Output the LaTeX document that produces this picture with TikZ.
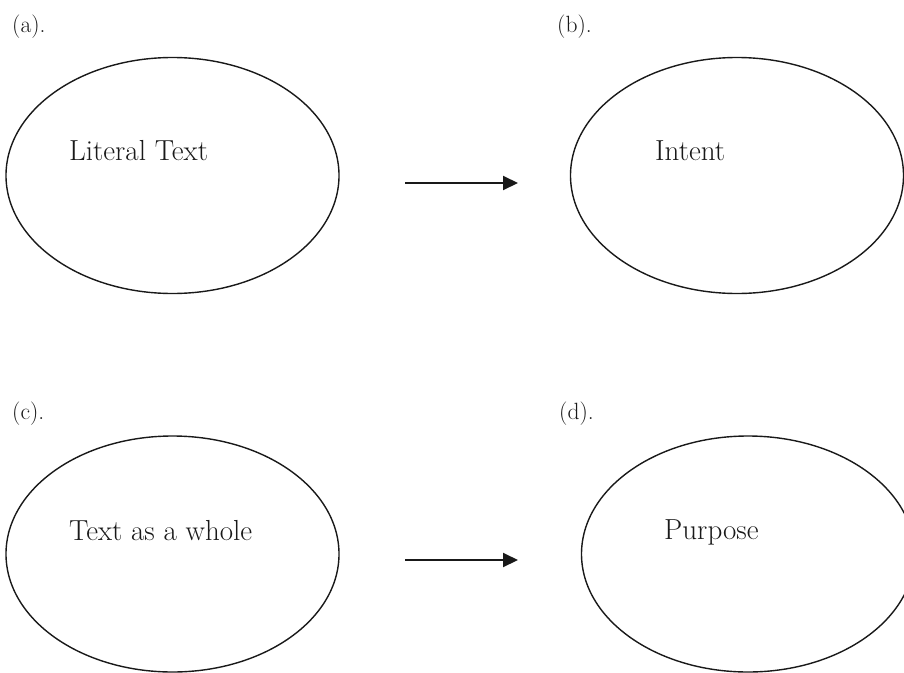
\documentclass[tikz,border=0pt]{standalone}
\usetikzlibrary{shapes.geometric,arrows.meta}
\begin{document}
\begin{tikzpicture}[x=1pt,y=-1pt,
  bubble/.style={draw=black!90,line width=1.4pt,ellipse,inner sep=0pt,minimum width=333pt,minimum height=236pt},
  inner/.style={anchor=base west,inner sep=0pt,text=black!90,font=\fontsize{29}{34}\selectfont},
  tag/.style={anchor=base west,inner sep=0pt,text=black!90,font=\fontsize{23.5}{28}\selectfont},
  arr/.style={draw=black!90,line width=2pt,-{Triangle[length=15pt,width=14pt]}}]
\useasboundingbox (0,0) rectangle (904,672);
\node[bubble] (a) at (172.5,175.5) {};
\node[bubble] (b) at (737,175.5) {};
\node[bubble] (c) at (172.5,554) {};
\node[bubble] (d) at (748,554) {};
\node[tag] (la) at (12,32.5) {(a).};
\node[tag] (lb) at (557,32.5) {(b).};
\node[tag] (lc) at (12,419) {(c).};
\node[tag] (ld) at (559,419) {(d).};
\node[inner] (ta) at (69,160) {Literal Text};
\node[inner] (tb) at (655,160) {Intent};
\node[inner] (tc) at (69,540) {Text as a whole};
\node[inner] (td) at (664,539) {Purpose};
\coordinate (s1) at (405,183);
\coordinate (e1) at (518,183);
\coordinate (s2) at (405,560);
\coordinate (e2) at (518,560);
\draw[arr] (s1) -- (e1);
\draw[arr] (s2) -- (e2);
\end{tikzpicture}
\end{document}
